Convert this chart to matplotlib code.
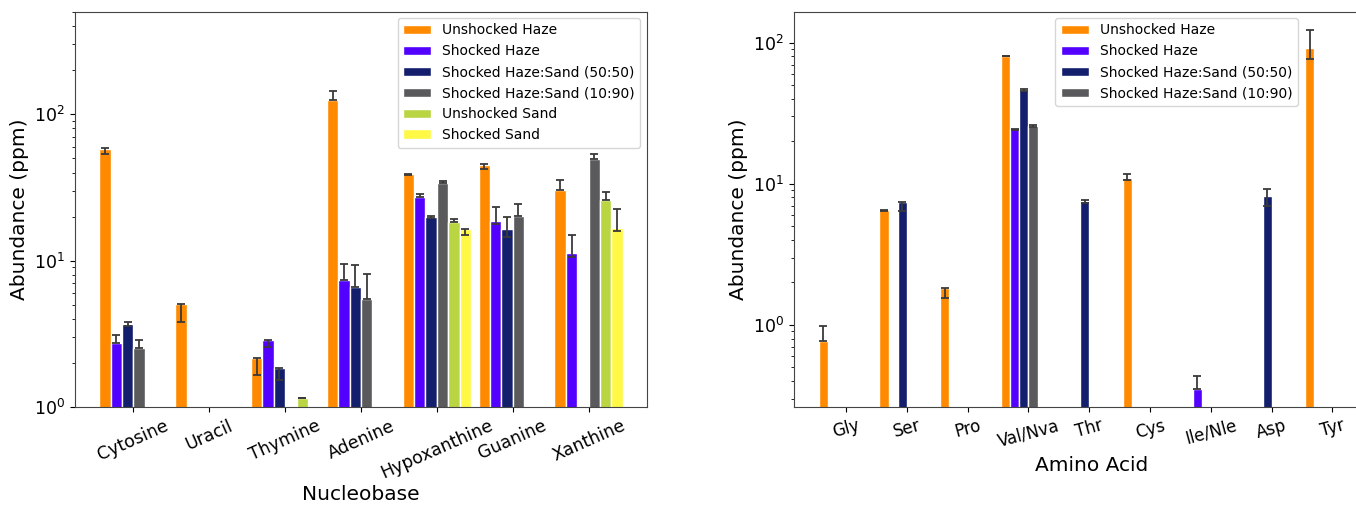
import numpy as np
import matplotlib
matplotlib.use("Agg")
import matplotlib.pyplot as plt

nan = np.nan

# ---------------- data ----------------
series_names = ["Unshocked Haze", "Shocked Haze", "Shocked Haze:Sand (50:50)",
                "Shocked Haze:Sand (10:90)", "Unshocked Sand", "Shocked Sand"]
series_colors = ["#FF8A00", "#5200FF", "#131E6C", "#5A5A5C", "#B9D542", "#FFF844"]

nucleobases = ["Cytosine", "Uracil", "Thymine", "Adenine", "Hypoxanthine", "Guanine", "Xanthine"]
# values per series for each nucleobase
nb_unshocked_haze = [57.7, 5.05, 2.16, 125.0, 38.9, 44.9, 30.4]
nb_shocked_haze = [2.73, nan, 2.88, 7.39, 27.1, 18.8, 11.25]
nb_haze_sand_5050 = [3.69, nan, 1.84, 6.65, 19.9, 16.5, nan]
nb_haze_sand_1090 = [2.53, nan, nan, 5.49, 34.1, 20.3, 49.5]
nb_unshocked_sand = [nan, nan, 1.15, nan, 18.4, nan, 25.9]
nb_shocked_sand = [nan, nan, nan, nan, 16.4, nan, 16.8]
# asymmetric errors: lower, upper
nb_err_lo_uh = [4.3, 1.27, 0.51, 0.0, 0.4, 2.8, 0.0]
nb_err_hi_uh = [1.6, 0.0, 0.0, 19.0, 0.4, 0.6, 5.0]
nb_err_lo_sh = [0.0, nan, 0.31, 0.0, 0.0, 1.1, 0.6]
nb_err_hi_sh = [0.37, nan, 0.0, 2.07, 1.6, 4.4, 3.75]
nb_err_lo_55 = [0.14, nan, 0.32, 0.0, 0.2, 1.9, nan]
nb_err_hi_55 = [0.09, nan, 0.0, 2.71, 0.2, 3.3, nan]
nb_err_lo_19 = [0.0, nan, nan, 0.0, 0.0, 0.0, 0.0]
nb_err_hi_19 = [0.32, nan, nan, 2.6, 1.0, 4.2, 4.1]
nb_err_lo_us = [nan, nan, 0.0, nan, 0.0, nan, 0.0]
nb_err_hi_us = [nan, nan, 0.01, nan, 1.0, nan, 3.7]
nb_err_lo_ss = [nan, nan, nan, nan, 1.5, nan, 0.8]
nb_err_hi_ss = [nan, nan, nan, nan, 0.0, nan, 5.8]

amino_acids = ["Gly", "Ser", "Pro", "Val/Nva", "Thr", "Cys", "Ile/Nle", "Asp", "Tyr"]
aa_unshocked_haze = [0.77, 6.49, 1.84, 80.4, nan, 11.0, nan, nan, 91.5]
aa_shocked_haze = [nan, nan, nan, 24.3, nan, nan, 0.35, nan, nan]
aa_haze_sand_5050 = [nan, 7.47, nan, 46.2, 7.55, nan, nan, 8.15, nan]
aa_haze_sand_1090 = [nan, nan, nan, 25.7, nan, nan, nan, nan, nan]
aa_err_lo_uh = [0.0, 0.08, 0.29, 0.5, nan, 0.4, nan, nan, 14.6]
aa_err_hi_uh = [0.22, 0.08, 0.0, 0.5, nan, 0.7, nan, nan, 31.0]
aa_err_lo_sh = [nan, nan, nan, 0.3, nan, nan, 0.0, nan, nan]
aa_err_hi_sh = [nan, nan, nan, 0.3, nan, nan, 0.083, nan, nan]
aa_err_lo_55 = [nan, 1.05, nan, 0.7, 0.2, nan, nan, 1.2, nan]
aa_err_hi_55 = [nan, 0.0, nan, 0.7, 0.15, nan, nan, 1.04, nan]
aa_err_lo_19 = [nan, nan, nan, 0.4, nan, nan, nan, nan, nan]
aa_err_hi_19 = [nan, nan, nan, 0.4, nan, nan, nan, nan, nan]

nb_vals = [nb_unshocked_haze, nb_shocked_haze, nb_haze_sand_5050,
           nb_haze_sand_1090, nb_unshocked_sand, nb_shocked_sand]
nb_errs = [(nb_err_lo_uh, nb_err_hi_uh), (nb_err_lo_sh, nb_err_hi_sh),
           (nb_err_lo_55, nb_err_hi_55), (nb_err_lo_19, nb_err_hi_19),
           (nb_err_lo_us, nb_err_hi_us), (nb_err_lo_ss, nb_err_hi_ss)]
aa_vals = [aa_unshocked_haze, aa_shocked_haze, aa_haze_sand_5050, aa_haze_sand_1090]
aa_errs = [(aa_err_lo_uh, aa_err_hi_uh), (aa_err_lo_sh, aa_err_hi_sh),
           (aa_err_lo_55, aa_err_hi_55), (aa_err_lo_19, aa_err_hi_19)]

# ---------------- plot ----------------
W, H = 1356, 508
fig = plt.figure(figsize=(W / 100, H / 100), dpi=100)
plt.rcParams['font.family'] = ['DejaVu Sans']

bw = 0.15
err_kw = dict(ecolor="#3a3a3a", capsize=3.2, error_kw=dict(elinewidth=1.3, capthick=1.3))


def draw(ax, cats, vals, errs, n_slots=6):
    x = np.arange(len(cats))
    for i, (v, (lo, hi)) in enumerate(zip(vals, errs)):
        v = np.array(v, dtype=float)
        yerr = np.array([lo, hi], dtype=float)
        ax.bar(x + (i - (n_slots - 1) / 2) * bw, v, bw, color=series_colors[i],
               edgecolor="white", linewidth=1.0, yerr=yerr, label=series_names[i],
               **err_kw)
    ax.set_yscale("log")
    ax.set_xticks(x)
    for sp in ax.spines.values():
        sp.set_color("#444444")


ax1 = fig.add_axes([75 / W, 1 - 407 / H, 572 / W, 395 / H])
draw(ax1, nucleobases, nb_vals, nb_errs)
ax1.set_xticklabels(nucleobases, rotation=24, ha="center", fontsize=12.5)
ax1.set_xlim(-0.77, 6.77)
ax1.set_ylim(1, 500)
ax1.set_xlabel("Nucleobase", fontsize=14.5, labelpad=2)
ax1.set_ylabel("Abundance (ppm)", fontsize=14.5)
ax1.tick_params(axis="y", labelsize=12.5)
ax1.legend(loc="upper right", bbox_to_anchor=(0.988, 0.985), borderaxespad=0,
           fontsize=10, labelspacing=0.5)

ax2 = fig.add_axes([794 / W, 1 - 407 / H, 595 / W, 395 / H])
draw(ax2, amino_acids, aa_vals, aa_errs)
ax2.set_xticklabels(amino_acids, rotation=15, ha="center", fontsize=12)
ax2.set_xlim(-0.855, 8.93)
ax2.set_ylim(0.262, 165)
ax2.set_xlabel("Amino Acid", fontsize=14.5)
ax2.set_ylabel("Abundance (ppm)", fontsize=14.5)
ax2.tick_params(axis="y", labelsize=12.5)
ax2.legend(loc="upper right", bbox_to_anchor=(0.847, 0.985), borderaxespad=0,
           fontsize=10, labelspacing=0.5)

fig.savefig("out.png", dpi=100)
